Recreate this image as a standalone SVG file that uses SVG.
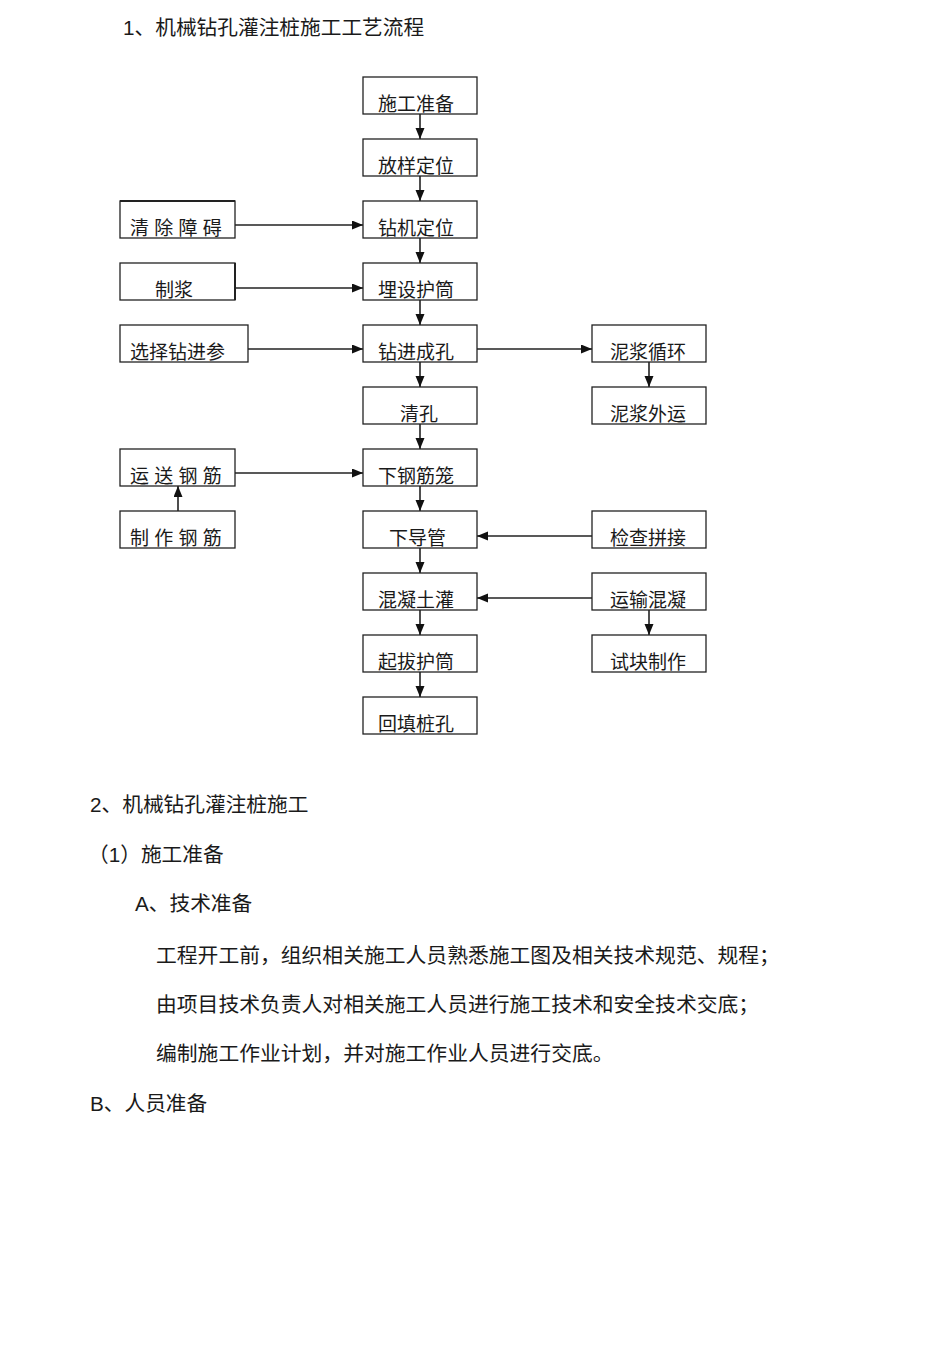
<svg xmlns="http://www.w3.org/2000/svg" width="950" height="1345" viewBox="0 0 950 1345">
<defs>
<style>
.box{fill:none;stroke:#222;stroke-width:1.3}
.lbl{font-family:'Liberation Sans','Noto Sans CJK SC',sans-serif;font-size:19px;fill:#1a1a1a}
.h{font-family:'Liberation Sans','Noto Sans CJK SC',sans-serif;font-size:20.7px;fill:#1a1a1a}
.b{font-family:'Liberation Sans','Noto Sans CJK SC',sans-serif;font-size:20.8px;fill:#1a1a1a}
.con{stroke:#222;stroke-width:1.6;fill:none;marker-end:url(#ah)}
</style>
<marker id="ah" markerUnits="userSpaceOnUse" markerWidth="12" markerHeight="10" refX="11" refY="4.5" orient="auto">
<path d="M0,0 L11,4.5 L0,9 z" fill="#111"/>
</marker>
</defs>
<rect width="950" height="1345" fill="#fff"/>

<text class="h" x="123" y="35">1、机械钻孔灌注桩施工工艺流程</text>

<g id="connectors">
<line class="con" x1="420" y1="114" x2="420" y2="139"/>
<line class="con" x1="420" y1="176" x2="420" y2="201"/>
<line class="con" x1="420" y1="238" x2="420" y2="263"/>
<line class="con" x1="420" y1="300" x2="420" y2="325"/>
<line class="con" x1="420" y1="362" x2="420" y2="387"/>
<line class="con" x1="420" y1="424" x2="420" y2="449"/>
<line class="con" x1="420" y1="486" x2="420" y2="511"/>
<line class="con" x1="420" y1="548" x2="420" y2="573"/>
<line class="con" x1="420" y1="610" x2="420" y2="635"/>
<line class="con" x1="420" y1="672" x2="420" y2="697"/>
<line class="con" x1="235" y1="225" x2="363" y2="225"/>
<line class="con" x1="235" y1="288" x2="363" y2="288"/>
<line class="con" x1="248" y1="349" x2="363" y2="349"/>
<line class="con" x1="477" y1="349" x2="592" y2="349"/>
<line class="con" x1="235" y1="473" x2="363" y2="473"/>
<line class="con" x1="592" y1="536" x2="477" y2="536"/>
<line class="con" x1="592" y1="598" x2="477" y2="598"/>
<line class="con" x1="649" y1="362" x2="649" y2="387"/>
<line class="con" x1="649" y1="610" x2="649" y2="635"/>
<line class="con" x1="178" y1="511" x2="178" y2="486"/>
</g>

<g id="n_sgzb"><rect class="box" x="363" y="77" width="114" height="37"/><text class="lbl" x="378" y="111">施工准备</text></g>
<g id="n_fydw"><rect class="box" x="363" y="139" width="114" height="37"/><text class="lbl" x="378" y="173">放样定位</text></g>
<g id="n_zjdw"><rect class="box" x="363" y="201" width="114" height="37"/><text class="lbl" x="378" y="235">钻机定位</text></g>
<g id="n_mshd"><rect class="box" x="363" y="263" width="114" height="37"/><text class="lbl" x="378" y="297">埋设护筒</text></g>
<g id="n_zjck"><rect class="box" x="363" y="325" width="114" height="37"/><text class="lbl" x="378" y="359">钻进成孔</text></g>
<g id="n_qk"><rect class="box" x="363" y="387" width="114" height="37"/><text class="lbl" x="400" y="421">清孔</text></g>
<g id="n_xgjl"><rect class="box" x="363" y="449" width="114" height="37"/><text class="lbl" x="378" y="483">下钢筋笼</text></g>
<g id="n_xdg"><rect class="box" x="363" y="511" width="114" height="37"/><text class="lbl" x="389" y="545">下导管</text></g>
<g id="n_hntg"><rect class="box" x="363" y="573" width="114" height="37"/><text class="lbl" x="378" y="607">混凝土灌</text></g>
<g id="n_qbhd"><rect class="box" x="363" y="635" width="114" height="37"/><text class="lbl" x="378" y="669">起拔护筒</text></g>
<g id="n_httk"><rect class="box" x="363" y="697" width="114" height="37"/><text class="lbl" x="378" y="731">回填桩孔</text></g>

<g id="n_qcza"><rect class="box" x="120" y="201" width="115" height="37"/><line x1="120" y1="201" x2="235" y2="201" stroke="#222" stroke-width="2"/><text class="lbl" x="130" y="235">清 除 障 碍</text></g>
<g id="n_zj"><rect class="box" x="120" y="263" width="115" height="37"/><line x1="235" y1="263" x2="235" y2="300" stroke="#222" stroke-width="2"/><text class="lbl" x="155" y="297">制浆</text></g>
<g id="n_xzzjc"><rect class="box" x="120" y="325" width="128" height="37"/><text class="lbl" x="130" y="359">选择钻进参</text></g>
<g id="n_ysgj"><rect class="box" x="120" y="449" width="115" height="37"/><text class="lbl" x="130" y="483">运 送 钢 筋</text></g>
<g id="n_zzgj"><rect class="box" x="120" y="511" width="115" height="37"/><text class="lbl" x="130" y="545">制 作 钢 筋</text></g>

<g id="n_njxh"><rect class="box" x="592" y="325" width="114" height="37"/><text class="lbl" x="610" y="359">泥浆循环</text></g>
<g id="n_njwy"><rect class="box" x="592" y="387" width="114" height="37"/><text class="lbl" x="610" y="421">泥浆外运</text></g>
<g id="n_jcpj"><rect class="box" x="592" y="511" width="114" height="37"/><text class="lbl" x="610" y="545">检查拼接</text></g>
<g id="n_yshn"><rect class="box" x="592" y="573" width="114" height="37"/><text class="lbl" x="610" y="607">运输混凝</text></g>
<g id="n_tkzz"><rect class="box" x="592" y="635" width="114" height="37"/><text class="lbl" x="610" y="669">试块制作</text></g>

<text class="h" x="90" y="812">2、机械钻孔灌注桩施工</text>
<text class="h" x="88" y="862">（1）施工准备</text>
<text class="h" x="135" y="911">A、技术准备</text>
<text class="b" x="156" y="963">工程开工前，组织相关施工人员熟悉施工图及相关技术规范、规程；</text>
<text class="b" x="156" y="1012">由项目技术负责人对相关施工人员进行施工技术和安全技术交底；</text>
<text class="b" x="156" y="1061">编制施工作业计划，并对施工作业人员进行交底。</text>
<text class="h" x="90" y="1111">B、人员准备</text>
</svg>
